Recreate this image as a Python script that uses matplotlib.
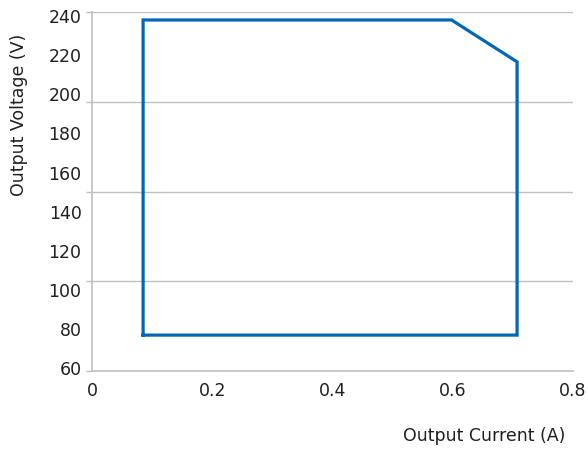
import numpy as np
import matplotlib
matplotlib.use("Agg")
import matplotlib.pyplot as plt

# operating window (output current in A, output voltage in V)
current = [0.085, 0.085, 0.598, 0.707, 0.707, 0.085]
voltage = [78, 236, 236, 215, 78, 78]

x_ticks = [0, 0.2, 0.4, 0.6, 0.8]
x_labels = ["0", "0.2", "0.4", "0.6", "0.8"]
y_grid = [60, 105, 150, 195, 240]
y_labels = ["60", "80", "100", "120", "140", "160", "180", "200", "220", "240"]

TEXT = "#231f20"
GRID = "#c0c0c0"
LINE = "#0066b5"

plt.rcParams["font.family"] = ["DejaVu Sans"]

fig = plt.figure(figsize=(5.88, 4.51), dpi=100)
ax = fig.add_axes([92 / 588, 1 - 371 / 451, (573 - 92) / 588, (371 - 12) / 451])

ax.plot(current, voltage, color=LINE, lw=2.3, solid_joinstyle="miter", zorder=3)

ax.set_xlim(0, 0.8)
ax.set_ylim(60, 240)

# gridlines on major ticks, labels placed as in the original (offset scale)
ax.set_yticks(y_grid)
ax.set_yticklabels([""] * len(y_grid))
ax.set_yticks(np.linspace(61.3, 238, len(y_labels)), minor=True)
ax.set_yticklabels(y_labels, minor=True)
ax.tick_params(axis="y", which="minor", length=0, pad=7.5, labelsize=12.5, labelcolor=TEXT)
ax.tick_params(axis="y", which="major", length=4, color=GRID, width=1)
ax.yaxis.grid(True, which="major", color=GRID, lw=1)

ax.set_xticks(x_ticks)
ax.set_xticklabels(x_labels)
ax.tick_params(axis="x", length=0, pad=8, labelsize=12.5, labelcolor=TEXT)

for s in ["top", "right"]:
    ax.spines[s].set_visible(False)
for s in ["left", "bottom"]:
    ax.spines[s].set_color(GRID)
    ax.spines[s].set_linewidth(1.2)

ax.set_ylabel("Output Voltage (V)", fontsize=12.5, color=TEXT)
ax.yaxis.set_label_coords(-0.133, 0.713)
ax.set_xlabel("Output Current (A)", fontsize=12.5, color=TEXT)
ax.xaxis.set_label_coords(0.815, -0.155)

fig.savefig("out.png", dpi=100)
